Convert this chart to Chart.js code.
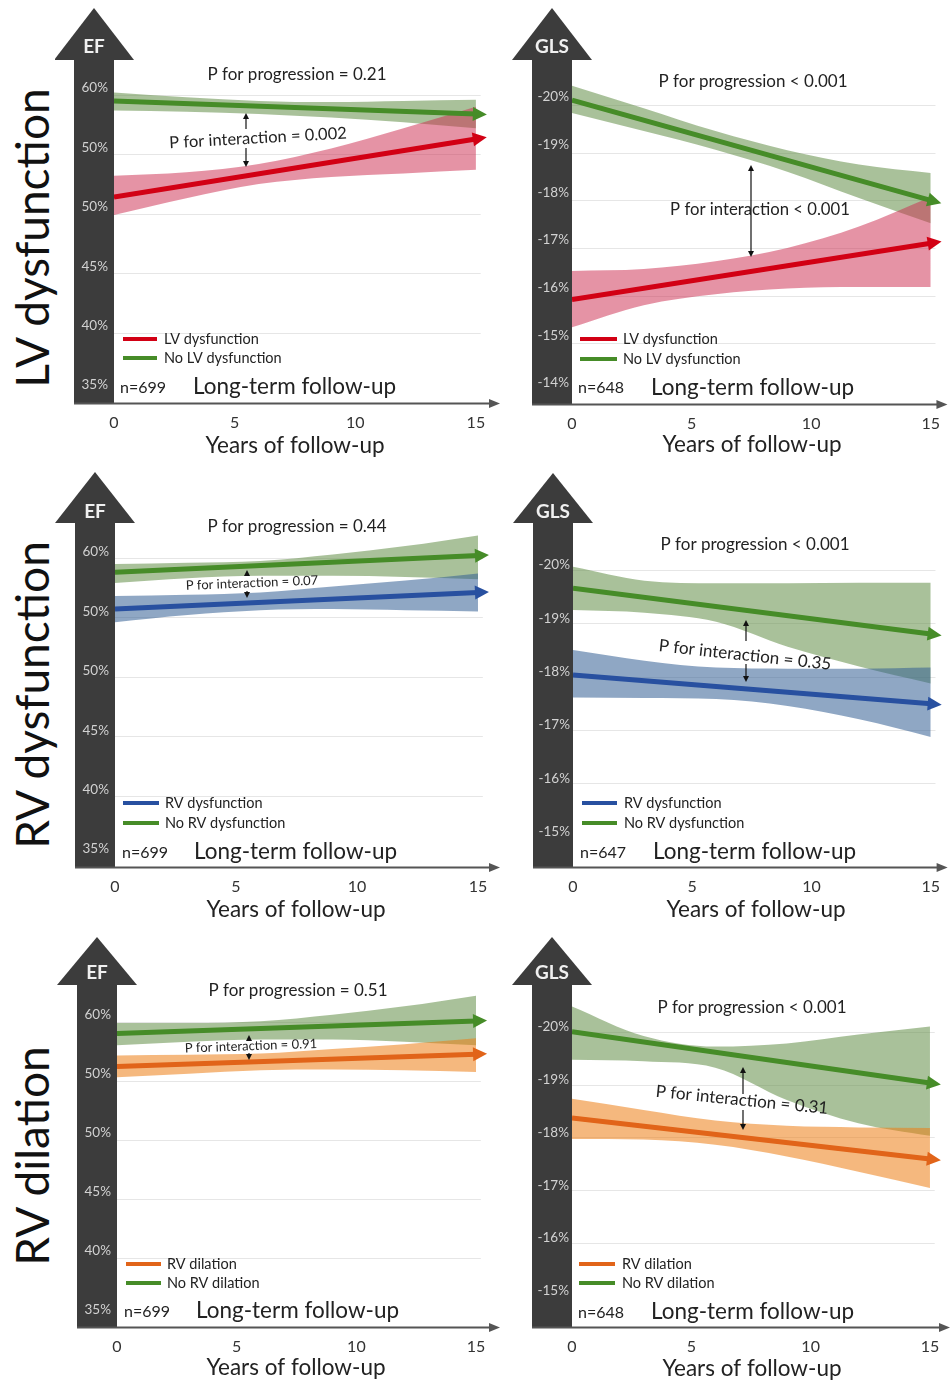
<!DOCTYPE html>
<html>
<head>
<meta charset="utf-8">
<title>Long-term follow-up of EF and GLS</title>
<script src="https://cdn.jsdelivr.net/npm/chart.js@4.4.1/dist/chart.umd.min.js"></script>
<style>
  body { margin: 0; background: #fff; width: 950px; height: 1381px; position: relative; overflow: hidden; font-family: Lato, sans-serif; }
  .panel { position: absolute; }
  .rowlabel { position: absolute; font-size: 46px; color: #111; white-space: nowrap; transform: translate(-50%, -50%) rotate(-90deg); }
</style>
</head>
<body>
<div class="rowlabel" style="left:31px; top:238px">LV dysfunction</div>
<div class="rowlabel" style="left:31px; top:695px">RV dysfunction</div>
<div class="rowlabel" style="left:31px; top:1156px">RV dilation</div>
<script>
// ---- data ----
const years = [0, 15];
const bandYears = [0, 3, 6, 9, 12, 15];
const xTicks = [0, 5, 10, 15];
const xTitle = 'Years of follow-up';

const efTicks = [35, 40, 45, 50, 55, 60];
const efTickLabels = ['35%', '40%', '45%', '50%', '50%', '60%'];   // as printed
const glsTicksLV = [-20, -19, -18, -17, -16, -15, -14];
const glsLabelsLV = ['-20%', '-19%', '-18%', '-17%', '-16%', '-15%', '-14%'];
const glsTicksRV = [-20, -19, -18, -17, -16, -15];
const glsLabelsRV = ['-20%', '-19%', '-18%', '-17%', '-16%', '-15%'];

const lvGroups = ['LV dysfunction', 'No LV dysfunction'];
const rvGroups = ['RV dysfunction', 'No RV dysfunction'];
const dilGroups = ['RV dilation', 'No RV dilation'];

// LV dysfunction - EF
const lvEfDys = [51.4, 56.3];
const lvEfDysHi = [53.2, 53.5, 54.2, 55.5, 57.2, 59.0];
const lvEfDysLo = [49.9, 51.3, 52.5, 53.1, 53.4, 53.7];
const lvEfNo = [59.5, 58.4];
const lvEfNoHi = [60.2, 59.8, 59.5, 59.4, 59.5, 59.6];
const lvEfNoLo = [58.7, 58.6, 58.4, 58.1, 57.7, 57.2];

// LV dysfunction - GLS
const lvGlsDys = [-15.92, -17.1];
const lvGlsDysHi = [-16.52, -16.56, -16.72, -17.0, -17.45, -18.07];
const lvGlsDysLo = [-15.34, -15.8, -16.03, -16.15, -16.18, -16.18];
const lvGlsNo = [-20.1, -18.0];
const lvGlsNoHi = [-20.4, -19.93, -19.45, -19.05, -18.75, -18.57];
const lvGlsNoLo = [-19.83, -19.45, -19.06, -18.6, -18.05, -17.52];

// RV dysfunction - EF
const rvEfDys = [55.7, 57.1];
const rvEfDysHi = [56.8, 56.9, 57.1, 57.6, 58.1, 58.7];
const rvEfDysLo = [54.6, 55.2, 55.6, 55.7, 55.6, 55.5];
const rvEfNo = [58.8, 60.2];
const rvEfNoHi = [59.5, 59.6, 59.75, 60.3, 61.0, 61.9];
const rvEfNoLo = [57.9, 58.3, 58.5, 58.5, 58.4, 58.2];

// RV dysfunction - GLS
const rvGlsDys = [-18.03, -17.49];
const rvGlsDysHi = [-18.5, -18.3, -18.17, -18.15, -18.15, -18.17];
const rvGlsDysLo = [-17.61, -17.6, -17.58, -17.45, -17.2, -16.87];
const rvGlsNo = [-19.66, -18.8];
const rvGlsNoHi = [-20.06, -19.8, -19.75, -19.75, -19.76, -19.76];
const rvGlsNoLo = [-19.25, -19.2, -19.03, -18.56, -18.19, -17.87];

// RV dilation - EF
const dilEf = [56.2, 57.25];
const dilEfHi = [57.15, 57.2, 57.3, 57.7, 58.1, 58.6];
const dilEfLo = [55.3, 55.6, 55.9, 55.95, 55.9, 55.75];
const noDilEf = [59.0, 60.07];
const noDilEfHi = [59.9, 59.9, 60.05, 60.6, 61.3, 62.2];
const noDilEfLo = [58.0, 58.3, 58.5, 58.5, 58.3, 58.0];

// RV dilation - GLS
const dilGls = [-18.37, -17.59];
const dilGlsHi = [-18.73, -18.52, -18.32, -18.22, -18.19, -18.18];
const dilGlsLo = [-17.97, -17.96, -17.86, -17.64, -17.35, -17.04];
const noDilGls = [-20.0, -19.03];
const noDilGlsHi = [-20.48, -19.92, -19.72, -19.78, -19.95, -20.1];
const noDilGlsLo = [-19.47, -19.44, -19.32, -18.71, -18.27, -18.03];

// ---- styles ----
const FONT = 'Lato, "Open Sans", sans-serif';
const RED = '#d20014', RED_BAND = 'rgba(206,48,82,0.52)';
const GREEN = '#468c28', GREEN_BAND = 'rgba(99,142,71,0.55)';
const BLUE = '#2850a0', BLUE_BAND = 'rgba(51,95,148,0.55)';
const ORANGE = '#e16419', ORANGE_BAND = 'rgba(237,125,20,0.55)';
const BAR = '#3c3c3c';

Chart.defaults.font.family = FONT;

const panels = [
  { left: 55, top: 0, w: 450, h: 465, plotLeft: 114, plotTop: 40, plotRight: 500, plotBottom: 403,
    yMin: 34.07, yMax: 64.63, reverse: false, xMax: 16.0, yTicks: efTicks, yLabels: efTickLabels,
    yPad: 6, yOff: -7,
    series: [
      { name: lvGroups[0], line: lvEfDys, hi: lvEfDysHi, lo: lvEfDysLo, color: RED, band: RED_BAND },
      { name: lvGroups[1], line: lvEfNo, hi: lvEfNoHi, lo: lvEfNoLo, color: GREEN, band: GREEN_BAND }],
    head: { label: 'EF', tip: 8, base: 60, ly: 47 },
    prog: { text: 'P for progression = 0.21', x: 297, y: 75, size: 17 },
    inter: { text: 'P for interaction = 0.002', x: 258, y: 138, size: 16.5, rot: -3.2 },
    arrow: { x: 246, y1: 113, y2: 167, gap: [129, 148] },
    legend: { x1: 123, x2: 157, tx: 164, ys: [339, 358] },
    n: { text: 'n=699', x: 120, y: 388 }, tag: { x: 193, y: 387 }, xt: { x: 295, y: 446 } },

  { left: 505, top: 0, w: 445, h: 465, plotLeft: 572, plotTop: 40, plotRight: 950, plotBottom: 404,
    yMin: -21.36, yMax: -13.73, reverse: true, xMax: 15.70, yTicks: glsTicksLV, yLabels: glsLabelsLV,
    yPad: 3, yOff: -8,
    series: [
      { name: lvGroups[0], line: lvGlsDys, hi: lvGlsDysHi, lo: lvGlsDysLo, color: RED, band: RED_BAND },
      { name: lvGroups[1], line: lvGlsNo, hi: lvGlsNoHi, lo: lvGlsNoLo, color: GREEN, band: GREEN_BAND }],
    head: { label: 'GLS', tip: 8, base: 60, ly: 47 },
    prog: { text: 'P for progression < 0.001', x: 753, y: 82, size: 17 },
    inter: { text: 'P for interaction < 0.001', x: 760, y: 210, size: 16.7, rot: 0 },
    arrow: { x: 751, y1: 165, y2: 257, gap: null },
    legend: { x1: 580, x2: 617, tx: 623, ys: [339, 359] },
    n: { text: 'n=648', x: 578, y: 388 }, tag: { x: 651, y: 388 }, xt: { x: 752, y: 445 } },

  { left: 55, top: 465, w: 450, h: 465, plotLeft: 115, plotTop: 505, plotRight: 500, plotBottom: 867,
    yMin: 33.99, yMax: 64.46, reverse: false, xMax: 15.91, yTicks: efTicks, yLabels: efTickLabels,
    yPad: 6, yOff: -6,
    series: [
      { name: rvGroups[0], line: rvEfDys, hi: rvEfDysHi, lo: rvEfDysLo, color: BLUE, band: BLUE_BAND },
      { name: rvGroups[1], line: rvEfNo, hi: rvEfNoHi, lo: rvEfNoLo, color: GREEN, band: GREEN_BAND }],
    head: { label: 'EF', tip: 472, base: 523, ly: 512 },
    prog: { text: 'P for progression = 0.44', x: 297, y: 527, size: 17 },
    inter: { text: 'P for interaction = 0.07', x: 252, y: 583, size: 13, rot: -2.3 },
    arrow: { x: 247, y1: 570, y2: 598, gap: [576, 591] },
    legend: { x1: 123, x2: 159, tx: 165, ys: [803, 823] },
    n: { text: 'n=699', x: 122, y: 853 }, tag: { x: 194, y: 852 }, xt: { x: 296, y: 910 } },

  { left: 505, top: 465, w: 445, h: 465, plotLeft: 573, plotTop: 505, plotRight: 950, plotBottom: 867,
    yMin: -21.22, yMax: -14.43, reverse: true, xMax: 15.71, yTicks: glsTicksRV, yLabels: glsLabelsRV,
    yPad: 3, yOff: -5,
    series: [
      { name: rvGroups[0], line: rvGlsDys, hi: rvGlsDysHi, lo: rvGlsDysLo, color: BLUE, band: BLUE_BAND },
      { name: rvGroups[1], line: rvGlsNo, hi: rvGlsNoHi, lo: rvGlsNoLo, color: GREEN, band: GREEN_BAND }],
    head: { label: 'GLS', tip: 473, base: 523, ly: 512 },
    prog: { text: 'P for progression < 0.001', x: 755, y: 545, size: 17 },
    inter: { text: 'P for interaction = 0.35', x: 745, y: 655, size: 17, rot: 6.2 },
    arrow: { x: 746, y1: 620, y2: 682, gap: [641, 664] },
    legend: { x1: 582, x2: 617, tx: 624, ys: [803, 823] },
    n: { text: 'n=647', x: 580, y: 853 }, tag: { x: 653, y: 852 }, xt: { x: 756, y: 910 } },

  { left: 55, top: 930, w: 450, h: 451, plotLeft: 117, plotTop: 970, plotRight: 500, plotBottom: 1327,
    yMin: 34.15, yMax: 64.38, reverse: false, xMax: 16.0, yTicks: efTicks, yLabels: efTickLabels,
    yPad: 6, yOff: -7,
    series: [
      { name: dilGroups[0], line: dilEf, hi: dilEfHi, lo: dilEfLo, color: ORANGE, band: ORANGE_BAND },
      { name: dilGroups[1], line: noDilEf, hi: noDilEfHi, lo: noDilEfLo, color: GREEN, band: GREEN_BAND }],
    head: { label: 'EF', tip: 937, base: 985, ly: 973 },
    prog: { text: 'P for progression = 0.51', x: 298, y: 991, size: 17 },
    inter: { text: 'P for interaction = 0.91', x: 251, y: 1046, size: 13, rot: -2 },
    arrow: { x: 249, y1: 1035, y2: 1060, gap: [1041, 1053] },
    legend: { x1: 126, x2: 161, tx: 167, ys: [1264, 1283] },
    n: { text: 'n=699', x: 124, y: 1312 }, tag: { x: 196, y: 1311 }, xt: { x: 296, y: 1368 } },

  { left: 505, top: 930, w: 445, h: 451, plotLeft: 572, plotTop: 970, plotRight: 950, plotBottom: 1327,
    yMin: -21.17, yMax: -14.41, reverse: true, xMax: 15.84, yTicks: glsTicksRV, yLabels: glsLabelsRV,
    yPad: 3, yOff: -5,
    series: [
      { name: dilGroups[0], line: dilGls, hi: dilGlsHi, lo: dilGlsLo, color: ORANGE, band: ORANGE_BAND },
      { name: dilGroups[1], line: noDilGls, hi: noDilGlsHi, lo: noDilGlsLo, color: GREEN, band: GREEN_BAND }],
    head: { label: 'GLS', tip: 937, base: 985, ly: 973 },
    prog: { text: 'P for progression < 0.001', x: 752, y: 1008, size: 17 },
    inter: { text: 'P for interaction = 0.31', x: 742, y: 1100, size: 17, rot: 5.7 },
    arrow: { x: 743, y1: 1067, y2: 1130, gap: [1094, 1110] },
    legend: { x1: 579, x2: 615, tx: 622, ys: [1264, 1283] },
    n: { text: 'n=648', x: 578, y: 1313 }, tag: { x: 651, y: 1312 }, xt: { x: 752, y: 1369 } }
];

function pts(xs, ys) {
  return xs.map((x, i) => ({ x: x, y: ys[i] }));
}

function say(ctx, t, x, y, size, align, rot) {
  ctx.save();
  ctx.translate(x, y);
  if (rot) ctx.rotate(rot * Math.PI / 180);
  ctx.font = size + 'px ' + FONT;
  ctx.textAlign = align;
  ctx.textBaseline = 'middle';
  ctx.fillStyle = '#222';
  ctx.fillText(t, 0, 0);
  ctx.restore();
}

// small double headed arrow, optionally split around the label
function vArrow(ctx, x, y1, y2, gap) {
  const mid = (y1 + y2) / 2;
  const segs = gap ? [[gap[0], y1], [gap[1], y2]] : [[mid, y1], [mid, y2]];
  ctx.strokeStyle = '#111';
  ctx.fillStyle = '#111';
  ctx.lineWidth = 1.2;
  segs.forEach(function (s) {
    const dir = Math.sign(s[1] - s[0]);
    ctx.beginPath();
    ctx.moveTo(x, s[0]);
    ctx.lineTo(x, s[1] - dir * 4);
    ctx.stroke();
    ctx.beginPath();
    ctx.moveTo(x, s[1]);
    ctx.lineTo(x - 3, s[1] - dir * 6);
    ctx.lineTo(x + 3, s[1] - dir * 6);
    ctx.closePath();
    ctx.fill();
  });
}

function makeDeco(p) {
  const ox = p.left, oy = p.top;
  return {
    id: 'deco',
    beforeDraw(chart) {
      const ctx = chart.ctx, ca = chart.chartArea, xs = chart.scales.x, ys = chart.scales.y;
      ctx.save();
      // faint grid lines, stopping where the bands stop
      const px = ys.ticks.map(t => ys.getPixelForValue(t.value));
      const lowest = Math.max.apply(null, px);
      const xEnd = xs.getPixelForValue(15.2);
      ctx.strokeStyle = '#e6e6e6';
      ctx.lineWidth = 1;
      px.forEach(function (y) {
        if (y >= lowest - 1) return;
        ctx.beginPath();
        ctx.moveTo(ca.left, Math.round(y) + 0.5);
        ctx.lineTo(xEnd, Math.round(y) + 0.5);
        ctx.stroke();
      });
      // the big dark arrow that carries the y axis
      const cx = (ys.left + ys.right) / 2;
      const base = p.head.base - oy;
      ctx.fillStyle = BAR;
      ctx.fillRect(ys.left, base - 1, ys.right - ys.left, ca.bottom - base + 2);
      ctx.beginPath();
      ctx.moveTo(cx - 40, base);
      ctx.lineTo(cx, p.head.tip - oy);
      ctx.lineTo(cx + 40, base);
      ctx.closePath();
      ctx.fill();
      ctx.fillStyle = '#f0f0f0';
      ctx.font = 'bold 19px ' + FONT;
      ctx.textAlign = 'center';
      ctx.textBaseline = 'middle';
      ctx.fillText(p.head.label, cx, p.head.ly - oy);
      // x axis arrow
      const y0 = ca.bottom + 0.5;
      ctx.strokeStyle = '#555';
      ctx.fillStyle = '#555';
      ctx.lineWidth = 2;
      ctx.beginPath();
      ctx.moveTo(ys.left, y0);
      ctx.lineTo(ca.right - 6, y0);
      ctx.stroke();
      ctx.beginPath();
      ctx.moveTo(ca.right, y0);
      ctx.lineTo(ca.right - 11, y0 - 4.5);
      ctx.lineTo(ca.right - 11, y0 + 4.5);
      ctx.closePath();
      ctx.fill();
      ctx.restore();
    },
    afterDatasetsDraw(chart) {
      const ctx = chart.ctx;
      ctx.save();
      chart.data.datasets.forEach(function (d, i) {
        if (!d.arrow) return;
        const el = chart.getDatasetMeta(i).data;
        const a = el[el.length - 2], b = el[el.length - 1];
        const len = Math.hypot(b.x - a.x, b.y - a.y);
        const ux = (b.x - a.x) / len, uy = (b.y - a.y) / len;
        const bx = b.x - ux * 3, by = b.y - uy * 3;
        ctx.fillStyle = d.borderColor;
        ctx.beginPath();
        ctx.moveTo(b.x + ux * 11, b.y + uy * 11);
        ctx.lineTo(bx - uy * 7, by + ux * 7);
        ctx.lineTo(bx + uy * 7, by - ux * 7);
        ctx.closePath();
        ctx.fill();
      });
      ctx.restore();
    },
    afterDraw(chart) {
      const ctx = chart.ctx;
      ctx.save();
      say(ctx, p.prog.text, p.prog.x - ox, p.prog.y - oy, p.prog.size, 'center', 0);
      vArrow(ctx, p.arrow.x - ox, p.arrow.y1 - oy, p.arrow.y2 - oy,
        p.arrow.gap ? [p.arrow.gap[0] - oy, p.arrow.gap[1] - oy] : null);
      say(ctx, p.inter.text, p.inter.x - ox, p.inter.y - oy, p.inter.size, 'center', p.inter.rot);
      // legend, from the line datasets
      const lines = chart.data.datasets.filter(d => d.arrow);
      lines.forEach(function (d, i) {
        const y = p.legend.ys[i] - oy;
        ctx.strokeStyle = d.borderColor;
        ctx.lineWidth = 4;
        ctx.beginPath();
        ctx.moveTo(p.legend.x1 - ox, y);
        ctx.lineTo(p.legend.x2 - ox, y);
        ctx.stroke();
        say(ctx, d.label, p.legend.tx - ox, y, 14.5, 'left', 0);
      });
      say(ctx, p.n.text, p.n.x - ox, p.n.y - oy, 16, 'left', 0);
      say(ctx, 'Long-term follow-up', p.tag.x - ox, p.tag.y - oy, 22.5, 'left', 0);
      say(ctx, xTitle, p.xt.x - ox, p.xt.y - oy, 22.5, 'center', 0);
      ctx.restore();
    }
  };
}

function buildPanel(p) {
  const box = document.createElement('div');
  box.className = 'panel';
  box.style.left = p.left + 'px';
  box.style.top = p.top + 'px';
  const cv = document.createElement('canvas');
  cv.width = p.w;
  cv.height = p.h;
  box.appendChild(cv);
  document.body.appendChild(box);

  const ds = [];
  p.series.forEach(function (s) {
    ds.push({ data: pts(bandYears, s.hi), fill: '+1', backgroundColor: s.band, borderWidth: 0,
      pointRadius: 0, cubicInterpolationMode: 'monotone', order: 3 });
    ds.push({ data: pts(bandYears, s.lo), fill: false, borderWidth: 0,
      pointRadius: 0, cubicInterpolationMode: 'monotone', order: 3 });
  });
  p.series.forEach(function (s) {
    ds.push({ label: s.name, data: pts(years, s.line), borderColor: s.color, backgroundColor: s.color,
      borderWidth: 5, borderCapStyle: 'butt', pointRadius: 0, fill: false, order: 1, arrow: true });
  });

  const xAxisH = p.top + p.h - p.plotBottom;
  new Chart(cv, {
    type: 'line',
    data: { datasets: ds },
    options: {
      responsive: false,
      animation: false,
      events: [],
      layout: { padding: { left: p.plotLeft - 40 - p.left, top: p.plotTop - p.top, right: p.left + p.w - p.plotRight, bottom: 0 } },
      plugins: { legend: { display: false }, tooltip: { enabled: false } },
      scales: {
        x: {
          type: 'linear', min: 0, max: p.xMax,
          afterBuildTicks: s => { s.ticks = xTicks.map(v => ({ value: v })); },
          afterFit: s => { s.height = xAxisH; },
          grid: { display: false, drawTicks: false }, border: { display: false },
          ticks: { padding: 10, color: '#333', font: { size: 16 } }
        },
        y: {
          type: 'linear', min: p.yMin, max: p.yMax, reverse: p.reverse,
          afterBuildTicks: s => { s.ticks = p.yTicks.map(v => ({ value: v })); },
          afterFit: s => { s.width = 40; },
          grid: { display: false, drawTicks: false }, border: { display: false },
          ticks: { padding: p.yPad, color: '#d2d2d2', labelOffset: p.yOff, font: { size: 13.5 },
            callback: (v, i) => p.yLabels[i] }
        }
      }
    },
    plugins: [makeDeco(p)]
  });
}

panels.forEach(buildPanel);
</script>
</body>
</html>
